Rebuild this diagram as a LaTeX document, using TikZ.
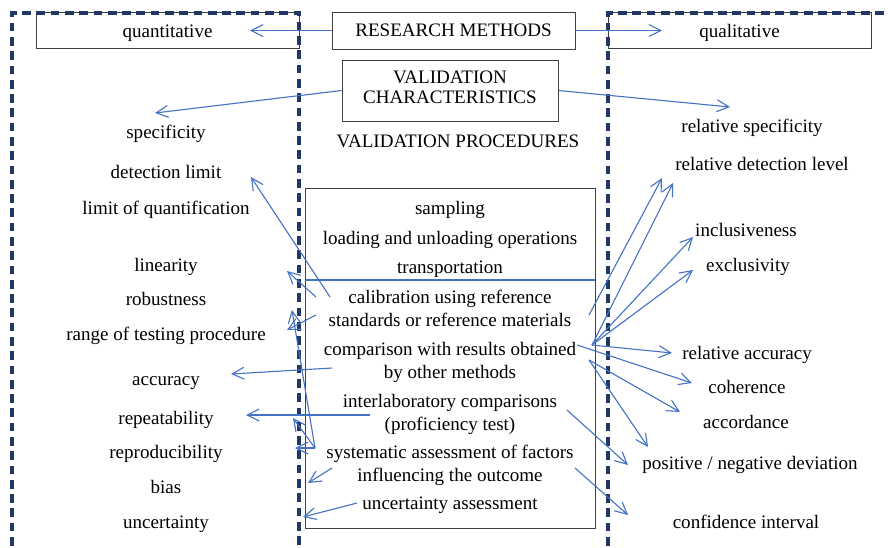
\documentclass[tikz,border=0pt]{standalone}
\usepackage{fontspec}
\setmainfont{Liberation Serif}
\usetikzlibrary{arrows.meta}

\definecolor{framecol}{RGB}{32,56,100}
\definecolor{arrcol}{RGB}{68,114,196}

\tikzset{
  every node/.style={font=\fontsize{12}{14.5}\selectfont},
  frame/.style={draw=framecol, line width=2.4pt, dash pattern=on 5.5pt off 3.5pt},
  box/.style={draw=black!75, line width=0.6pt, inner sep=0pt},
  lowbox/.style={box, text height=12pt, text depth=2.7pt},
  lbl/.style={anchor=base},
  arr/.style={draw=arrcol, line width=0.7pt, -{Straight Barb[length=7.5pt,width=7.5pt]}}
}

\begin{document}
\begin{tikzpicture}[x=0.63pt, y=-0.63pt]
\useasboundingbox (0,0) rectangle (888,547);

\node[lowbox, minimum width=165.7pt, minimum height=22.1pt] (quant) at (167.5,30.5) {quantitative};
\node[box, minimum width=153.1pt, minimum height=23.3pt] (resmeth) at (453.5,30.5) {RESEARCH METHODS};
\node[lowbox, minimum width=165.7pt, minimum height=22.1pt] (qual) at (739.5,30.5) {qualitative};
\node[box, minimum width=136.1pt, minimum height=38.4pt] (valchar) at (450,90.5) {};
\node[align=center, font=\fontsize{12}{12.6}\selectfont] (valtext) at (450,87) {VALIDATION\\CHARACTERISTICS};
\node[lbl] (procs) at (458,147) {VALIDATION PROCEDURES};

\node[box, minimum width=182.7pt, minimum height=214.2pt] (procbox) at (450,358) {};
\coordinate (split) at (450,280);
\draw[draw=arrcol, line width=0.7pt] (procbox.west |- split) -- (procbox.east |- split);

% procedures
\node[lbl] (sampl) at (450,214) {sampling};
\node[lbl] (load) at (450,244) {loading and unloading operations};
\node[lbl] (transp) at (450,273) {transportation};
\node[align=center] (calib) at (450,308) {calibration using reference\\standards or reference materials};
\node[align=center] (compar) at (450,362) {comparison with results obtained\\by other methods};
\node[align=center] (interlab) at (450,414) {interlaboratory comparisons\\(proficiency test)};
\node[align=center] (system) at (450,465) {systematic assessment of factors\\influencing the outcome};
\node[lbl] (uncass) at (450,509) {uncertainty assessment};

% quantitative
\node[lbl] (spec) at (166,138) {specificity};
\node[lbl] (detlim) at (166,178) {detection limit};
\node[lbl] (loq) at (166,214) {limit of quantification};
\node[lbl] (lin) at (166,271) {linearity};
\node[lbl] (rob) at (166,305) {robustness};
\node[lbl] (range) at (166,340) {range of testing procedure};
\node[lbl] (acc) at (166,385) {accuracy};
\node[lbl] (rep) at (166,424) {repeatability};
\node[lbl] (repro) at (166,458) {reproducibility};
\node[lbl] (bias) at (166,493) {bias};
\node[lbl] (unc) at (166,528) {uncertainty};

% qualitative
\node[lbl] (relspec) at (752,132) {relative specificity};
\node[lbl] (reldet) at (762,170) {relative detection level};
\node[lbl] (incl) at (746,236) {inclusiveness};
\node[lbl] (excl) at (748,271) {exclusivity};
\node[lbl] (relacc) at (747,359) {relative accuracy};
\node[lbl] (coh) at (747,393) {coherence};
\node[lbl] (accord) at (746,428) {accordance};
\node[lbl] (posneg) at (750,469) {positive / negative deviation};
\node[lbl] (conf) at (746,528) {confidence interval};

\draw[frame] (12,560) -- (12,13) -- (299,13) -- (299,560);
\draw[frame] (608,560) -- (608,13) -- (900,13);

% arrow ends
\coordinate (t-quant) at (250,30.5);
\coordinate (t-qual) at (662,30.5);
\coordinate (t-spec) at (155,113);
\coordinate (t-relspec) at (730,107);
\coordinate (s-cal1) at (330,297);
\coordinate (s-cal2) at (316,297);
\coordinate (s-cal3) at (316,315);
\coordinate (s-sys1) at (315,448);
\coordinate (s-comp1) at (332,368);
\coordinate (s-inter1) at (370,415);
\coordinate (s-sys2) at (332,468);
\coordinate (s-unc) at (357,503);
\coordinate (t-detlim) at (251,177);
\coordinate (t-lin) at (287,271);
\coordinate (t-range) at (287,330);
\coordinate (t-rob) at (292,310);
\coordinate (t-rep2) at (293,418);
\coordinate (t-repro) at (295,448);
\coordinate (t-acc) at (231,374);
\coordinate (t-rep) at (246,415);
\coordinate (t-bias) at (308,483);
\coordinate (t-unc) at (303,517);
\coordinate (s-cal4) at (589,315);
\coordinate (s-comp2) at (592,345);
\coordinate (s-comp3) at (577,345);
\coordinate (s-comp4) at (589,360);
\coordinate (s-inter2) at (567,410);
\coordinate (s-sys3) at (575,468);
\coordinate (t-reldet1) at (662,178);
\coordinate (t-reldet2) at (673,183);
\coordinate (t-incl) at (693,237);
\coordinate (t-excl) at (693,270);
\coordinate (t-relacc) at (672,353);
\coordinate (t-coh) at (692,383);
\coordinate (t-accord) at (680,412);
\coordinate (t-posneg1) at (648,447);
\coordinate (t-posneg2) at (628,465);
\coordinate (t-conf) at (628,515);

\draw[arr] (resmeth.west) -- (t-quant);
\draw[arr] (resmeth.east) -- (t-qual);
\draw[arr] (valchar.west) -- (t-spec);
\draw[arr] (valchar.east) -- (t-relspec);

\draw[arr] (s-cal1) -- (t-detlim);
\draw[arr] (s-cal2) -- (t-lin);
\draw[arr] (s-cal3) -- (t-range);
\draw[arr] (s-sys1) -- (t-rob);
\draw[arr] (s-sys1) -- (t-rep2);
\draw[arr] (s-sys1) -- (t-repro);
\draw[arr] (s-comp1) -- (t-acc);
\draw[arr] (s-inter1) -- (t-rep);
\draw[arr] (s-sys2) -- (t-bias);
\draw[arr] (s-unc) -- (t-unc);

\draw[arr] (s-cal4) -- (t-reldet1);
\draw[arr] (s-comp2) -- (t-reldet2);
\draw[arr] (s-comp2) -- (t-incl);
\draw[arr] (s-comp2) -- (t-excl);
\draw[arr] (s-comp2) -- (t-relacc);
\draw[arr] (s-comp3) -- (t-coh);
\draw[arr] (s-comp4) -- (t-accord);
\draw[arr] (s-comp4) -- (t-posneg1);
\draw[arr] (s-inter2) -- (t-posneg2);
\draw[arr] (s-sys3) -- (t-conf);

\end{tikzpicture}
\end{document}
